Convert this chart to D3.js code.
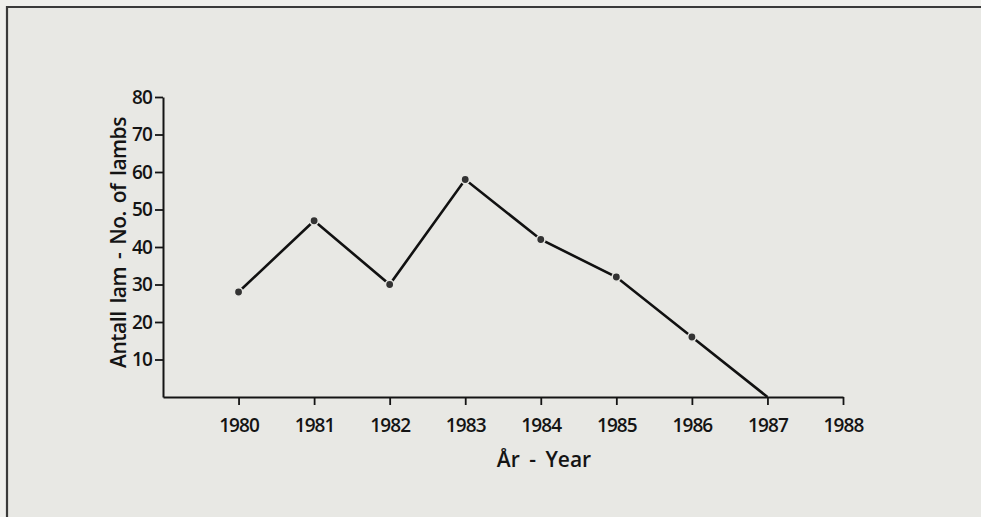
<!DOCTYPE html>
<html>
<head>
<meta charset="utf-8">
<script src="https://cdn.jsdelivr.net/npm/d3@7"></script>
<style>
  html, body { margin: 0; padding: 0; background: #efefec; }
  svg { display: block; }
  text { font-family: "Open Sans", "Noto Sans", sans-serif; fill: #141414; }
</style>
</head>
<body>
<svg id="chart" width="981" height="517"></svg>
<script>
const years = [1980, 1981, 1982, 1983, 1984, 1985, 1986, 1987];
const lambs = [28, 47, 30, 58, 42, 32, 16, 0];
const xTicks = [1980, 1981, 1982, 1983, 1984, 1985, 1986, 1987, 1988];
const yTicks = [10, 20, 30, 40, 50, 60, 70, 80];
const yTitle = "Antall lam - No. of lambs";
const xTitle = "År - Year";

const svg = d3.select("#chart");
const W = 981, H = 517;

// page panel
svg.append("rect").attr("x", 0).attr("y", 0).attr("width", W).attr("height", H).attr("fill", "#efefec");
svg.append("rect").attr("x", 8).attr("y", 8).attr("width", W - 8).attr("height", H - 8).attr("fill", "#e8e8e4");
svg.append("line").attr("x1", 7).attr("x2", W).attr("y1", 7).attr("y2", 7)
  .attr("stroke", "#3a3a3a").attr("stroke-width", 2.2);
svg.append("line").attr("x1", 7).attr("x2", 7).attr("y1", 6).attr("y2", H)
  .attr("stroke", "#3a3a3a").attr("stroke-width", 2.2);

const x = d3.scaleLinear().domain([1979, 1988]).range([163, 843]);
const y = d3.scaleLinear().domain([0, 80]).range([397, 97]);

const data = years.map((yr, i) => ({ yr, v: lambs[i] }));

// axes
const gx = svg.append("g").attr("transform", `translate(0,${y(0)})`)
  .call(d3.axisBottom(x).tickValues(xTicks).tickFormat(d3.format("d")).tickSize(8).tickSizeOuter(0).tickPadding(14));
const gy = svg.append("g").attr("transform", `translate(${x(1979)},0)`)
  .call(d3.axisLeft(y).tickValues(yTicks).tickSize(8).tickSizeOuter(0).tickPadding(3));

[gx, gy].forEach(g => {
  g.select(".domain").attr("stroke", "#141414").attr("stroke-width", 2);
  g.selectAll(".tick line").attr("stroke", "#141414").attr("stroke-width", 1.8);
  g.selectAll(".tick text").attr("font-size", 19).attr("letter-spacing", -0.9).attr("font-weight", 600)
    .attr("font-family", "'Open Sans', sans-serif").attr("fill", "#1c1c1c");
});

// line
const line = d3.line().x(d => x(d.yr)).y(d => y(d.v));
svg.append("path").datum(data).attr("d", line)
  .attr("fill", "none").attr("stroke", "#111").attr("stroke-width", 2.6).attr("stroke-linejoin", "miter");

svg.append("g").selectAll("circle").data(data.filter(d => d.v > 0)).join("circle")
  .attr("cx", d => x(d.yr)).attr("cy", d => y(d.v)).attr("r", 4.2)
  .attr("fill", "#333").attr("stroke", "#e8e8e4").attr("stroke-width", 1.6);

// titles
svg.append("text")
  .attr("transform", `translate(126,${(118 + 367) / 2}) rotate(-90)`)
  .attr("text-anchor", "middle").attr("font-size", 21).attr("font-weight", 600)
  .attr("letter-spacing", -0.5).attr("word-spacing", 3).attr("fill", "#1c1c1c")
  .text(yTitle);

svg.append("text")
  .attr("x", 544).attr("y", 467)
  .attr("text-anchor", "middle").attr("font-size", 21).attr("font-weight", 600)
  .attr("word-spacing", 4).attr("fill", "#1c1c1c")
  .text(xTitle);
</script>
</body>
</html>
